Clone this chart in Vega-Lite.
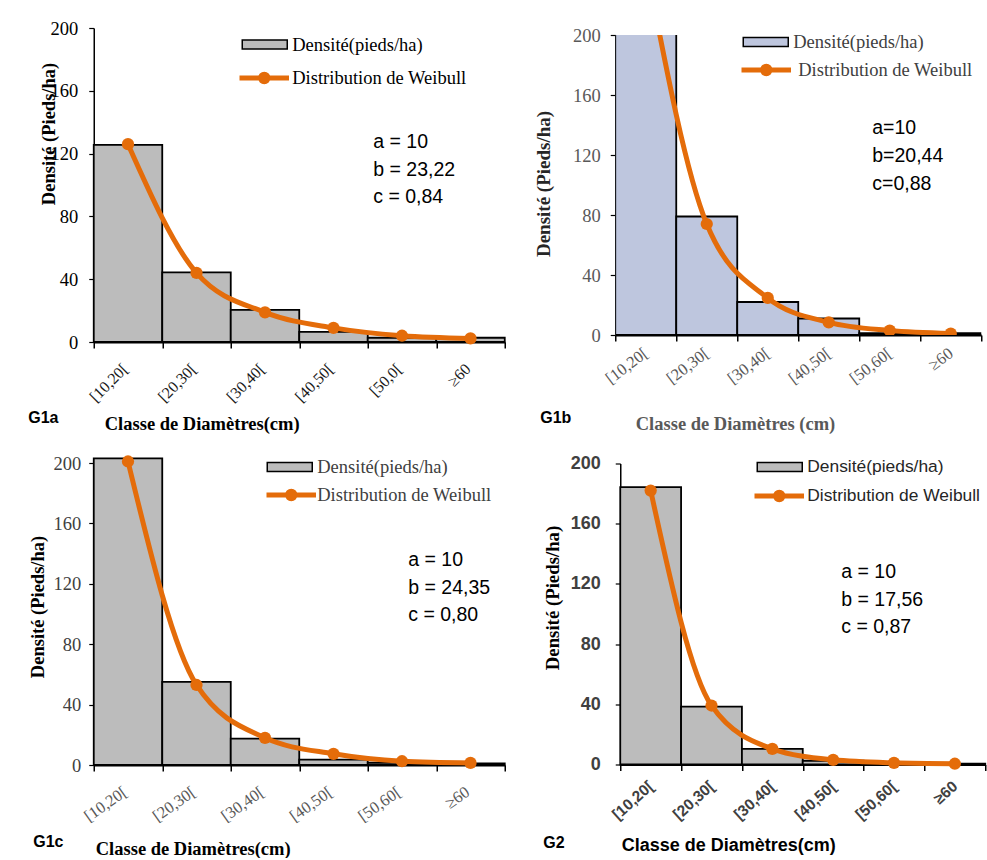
{
  "$schema": "https://vega.github.io/schema/vega-lite/v6.json",
  "background": "white",
  "padding": {"left": 27.75, "top": 19, "right": 0, "bottom": 0},
  "spacing": 18,
  "resolve": {"scale": {"fill": "independent", "stroke": "independent"}},
  "config": {"view": {"stroke": null}, "axis": {"grid": false}},
  "vconcat": [
    {
      "hconcat": [
        {
          "width": 411, "height": 314,
          "title": {"text": "G1a", "orient": "bottom", "anchor": "start", "frame": "group", "align": "left", "baseline": "middle", "dx": -65.5, "offset": -15, "font": "Liberation Sans", "fontSize": 16, "fontWeight": "bold", "color": "#000000"},
          "data": {"values": [
            {"classe": "[10,20[", "densite": 125.5, "weibull": 126},
            {"classe": "[20,30[", "densite": 44.3, "weibull": 44},
            {"classe": "[30,40[", "densite": 20.4, "weibull": 18.9},
            {"classe": "[40,50[", "densite": 6.5, "weibull": 9},
            {"classe": "[50,0[", "densite": 2.7, "weibull": 4},
            {"classe": "≥60", "densite": 2.7, "weibull": 2.3}
          ]},
          "encoding": {
            "x": {"field": "classe", "type": "nominal", "sort": null, "scale": {"paddingInner": 0, "paddingOuter": 0},
              "axis": {"title": "Classe de Diamètres(cm)", "tickBand": "extent", "labelAngle": -45, "labelAlign": "right", "labelBaseline": "middle", "labelPadding": 18, "labelOffset": -3, "labelFont": "Liberation Serif", "labelFontSize": 16, "labelColor": "#1a1a1a", "labelOverlap": false, "domainColor": "#000000", "domainWidth": 2, "tickColor": "#000000", "tickWidth": 1.5, "tickSize": 6, "titleFont": "Liberation Serif", "titleFontSize": 18.5, "titleFontWeight": "bold", "titleColor": "#000000", "titleAlign": "left", "titleBaseline": "middle", "titleX": 10.5, "titleY": 81}}
          },
          "layer": [
            {"mark": {"type": "bar", "stroke": "#000000", "strokeWidth": 1.8},
              "encoding": {
                "y": {"field": "densite", "type": "quantitative", "scale": {"domain": [0, 200], "nice": false},
                  "axis": {"title": "Densité (Pieds/ha)", "values": [0, 20, 40, 60, 80, 100, 120, 140, 160, 180, 200], "labelExpr": "datum.value % 40 == 0 ? datum.label : ''", "labelOverlap": false, "labelFont": "Liberation Serif", "labelFontSize": 18.5, "labelColor": "#000000", "labelPadding": 11, "domainColor": "#000000", "domainWidth": 1.5, "tickColor": "#000000", "tickWidth": 1.2, "tickSize": 5, "titleFont": "Liberation Serif", "titleFontSize": 18.5, "titleFontWeight": "bold", "titleColor": "#000000", "titleAngle": 270, "titleAlign": "center", "titleBaseline": "middle", "titleX": -45.5, "titleY": 105.5}},
                "fill": {"datum": "Densité(pieds/ha)", "scale": {"range": ["#bcbcbc"]},
                  "legend": {"title": null, "orient": "none", "legendX": 147.5, "legendY": 5.5, "padding": 0, "symbolType": "M-1,-0.45H3.5V0.45H-1Z", "symbolSize": 400, "symbolStrokeColor": "#000000", "symbolStrokeWidth": 1.5, "symbolOpacity": 1, "labelOffset": 29, "labelFont": "Liberation Serif", "labelFontSize": 18.5, "labelColor": "#000000", "labelLimit": 400}}
              }},
            {"mark": {"type": "line", "interpolate": "monotone", "strokeWidth": 5},
              "encoding": {"y": {"field": "weibull", "type": "quantitative"},
                "stroke": {"datum": "Distribution de Weibull", "scale": {"range": ["#E46C0A"]},
                  "legend": {"title": null, "orient": "none", "legendX": 145.5, "legendY": 39, "padding": 0, "symbolType": "M-1,-0.175H3.8V0.175H-1Z M0.85,0A0.55,0.55 0 1,1 1.95,0A0.55,0.55 0 1,1 0.85,0Z", "symbolSize": 400, "symbolFillColor": "#E46C0A", "symbolStrokeWidth": 1.5, "symbolOpacity": 1, "labelOffset": 31, "labelFont": "Liberation Serif", "labelFontSize": 18.5, "labelColor": "#000000", "labelLimit": 400}}}},
            {"mark": {"type": "point", "filled": true, "size": 150, "opacity": 1, "color": "#E46C0A"},
              "encoding": {"y": {"field": "weibull", "type": "quantitative"}}},
            {"data": {"values": [{}]},
              "mark": {"type": "text", "text": ["a = 10", "b = 23,22", "c = 0,84"], "font": "Liberation Sans", "fontSize": 19.5, "lineHeight": 27.5, "align": "left", "baseline": "top", "dx": 39.75, "color": "#000000"},
              "encoding": {"x": {"datum": "[40,50["}, "y": {"datum": 133}}}
          ]
        },
        {
          "width": 366, "height": 300,
          "title": {"text": "G1b", "orient": "bottom", "anchor": "start", "frame": "group", "align": "left", "baseline": "middle", "dx": -75, "offset": -14.5, "font": "Liberation Sans", "fontSize": 16, "fontWeight": "bold", "color": "#000000"},
          "data": {"values": [
            {"classe": "[10,20[", "densite": 255, "weibull": 248},
            {"classe": "[20,30[", "densite": 79, "weibull": 74},
            {"classe": "[30,40[", "densite": 22, "weibull": 24.7},
            {"classe": "[40,50[", "densite": 11, "weibull": 8.4},
            {"classe": "[50,60[", "densite": 1.2, "weibull": 3},
            {"classe": "≥60", "densite": 1.2, "weibull": 1}
          ]},
          "encoding": {
            "x": {"field": "classe", "type": "nominal", "sort": null, "scale": {"paddingInner": 0, "paddingOuter": 0},
              "axis": {"title": "Classe de Diamètres (cm)", "tickBand": "extent", "labelAngle": -37, "labelAlign": "right", "labelBaseline": "middle", "labelPadding": 10, "labelFont": "Liberation Serif", "labelFontSize": 16.5, "labelColor": "#595959", "labelOverlap": false, "domainColor": "#000000", "domainWidth": 2, "tickColor": "#000000", "tickWidth": 1.5, "tickSize": 6, "titleFont": "Liberation Serif", "titleFontSize": 18.5, "titleFontWeight": "bold", "titleColor": "#595959", "titleAlign": "left", "titleBaseline": "middle", "titleX": 20, "titleY": 88}}
          },
          "layer": [
            {"mark": {"type": "bar", "stroke": "#000000", "strokeWidth": 1.8, "clip": true},
              "encoding": {
                "y": {"field": "densite", "type": "quantitative", "scale": {"domain": [0, 200], "nice": false},
                  "axis": {"title": "Densité (Pieds/ha)", "values": [0, 20, 40, 60, 80, 100, 120, 140, 160, 180, 200], "labelExpr": "datum.value % 40 == 0 ? datum.label : ''", "labelOverlap": false, "labelFont": "Liberation Serif", "labelFontSize": 18.5, "labelColor": "#595959", "labelPadding": 10, "domainColor": "#000000", "domainWidth": 1.5, "tickColor": "#000000", "tickWidth": 1.2, "tickSize": 5, "titleFont": "Liberation Serif", "titleFontSize": 19, "titleFontWeight": "bold", "titleColor": "#262626", "titleAngle": 270, "titleAlign": "center", "titleBaseline": "middle", "titleX": -72, "titleY": 148.5}},
                "fill": {"datum": "Densité(pieds/ha)", "scale": {"range": ["#bec6de"]},
                  "legend": {"title": null, "orient": "none", "legendX": 127, "legendY": -4, "padding": 0, "symbolType": "M-1,-0.45H3.5V0.45H-1Z", "symbolSize": 400, "symbolStrokeColor": "#000000", "symbolStrokeWidth": 1.5, "symbolOpacity": 1, "labelOffset": 29, "labelFont": "Liberation Serif", "labelFontSize": 18.5, "labelColor": "#404040", "labelLimit": 400}}
              }},
            {"mark": {"type": "line", "interpolate": "monotone", "strokeWidth": 5, "clip": true},
              "encoding": {"y": {"field": "weibull", "type": "quantitative"},
                "stroke": {"datum": "Distribution de Weibull", "scale": {"range": ["#E46C0A"]},
                  "legend": {"title": null, "orient": "none", "legendX": 126, "legendY": 24, "padding": 0, "symbolType": "M-1,-0.175H3.8V0.175H-1Z M0.85,0A0.55,0.55 0 1,1 1.95,0A0.55,0.55 0 1,1 0.85,0Z", "symbolSize": 400, "symbolFillColor": "#E46C0A", "symbolStrokeWidth": 1.5, "symbolOpacity": 1, "labelOffset": 35, "labelFont": "Liberation Serif", "labelFontSize": 18.5, "labelColor": "#404040", "labelLimit": 400}}}},
            {"mark": {"type": "point", "filled": true, "size": 150, "opacity": 1, "color": "#E46C0A", "clip": true},
              "encoding": {"y": {"field": "weibull", "type": "quantitative"}}},
            {"data": {"values": [{}]},
              "mark": {"type": "text", "text": ["a=10", "b=20,44", "c=0,88"], "font": "Liberation Sans", "fontSize": 19.5, "lineHeight": 28, "align": "left", "baseline": "top", "dx": 43.5, "color": "#000000"},
              "encoding": {"x": {"datum": "[40,50["}, "y": {"datum": 143.7}}}
          ]
        }
      ],
      "bounds": "flush", "center": true, "spacing": 110.5,
      "resolve": {"scale": {"fill": "independent", "stroke": "independent"}}
    },
    {
      "hconcat": [
        {
          "width": 411, "height": 302,
          "title": {"text": "G1c", "orient": "bottom", "anchor": "start", "frame": "group", "align": "left", "baseline": "middle", "dx": -60.5, "offset": -16, "font": "Liberation Sans", "fontSize": 16, "fontWeight": "bold", "color": "#000000"},
          "data": {"values": [
            {"classe": "[10,20[", "densite": 203, "weibull": 201},
            {"classe": "[20,30[", "densite": 55, "weibull": 53},
            {"classe": "[30,40[", "densite": 17.5, "weibull": 18},
            {"classe": "[40,50[", "densite": 3.6, "weibull": 7.4},
            {"classe": "[50,60[", "densite": 1.5, "weibull": 2.5},
            {"classe": "≥60", "densite": 1, "weibull": 1.4}
          ]},
          "encoding": {
            "x": {"field": "classe", "type": "nominal", "sort": null, "scale": {"paddingInner": 0, "paddingOuter": 0},
              "axis": {"title": "Classe de Diamètres(cm)", "tickBand": "extent", "labelAngle": -35, "labelAlign": "right", "labelBaseline": "middle", "labelPadding": 19, "labelOffset": -3, "labelFont": "Liberation Serif", "labelFontSize": 16.5, "labelColor": "#595959", "labelOverlap": false, "domainColor": "#000000", "domainWidth": 2, "tickColor": "#000000", "tickWidth": 1.5, "tickSize": 6, "titleFont": "Liberation Serif", "titleFontSize": 18.5, "titleFontWeight": "bold", "titleColor": "#000000", "titleAlign": "left", "titleBaseline": "middle", "titleX": 1.5, "titleY": 83}}
          },
          "layer": [
            {"mark": {"type": "bar", "stroke": "#000000", "strokeWidth": 1.8},
              "encoding": {
                "y": {"field": "densite", "type": "quantitative", "scale": {"domain": [0, 200], "nice": false},
                  "axis": {"title": "Densité (Pieds/ha)", "values": [0, 20, 40, 60, 80, 100, 120, 140, 160, 180, 200], "labelExpr": "datum.value % 40 == 0 ? datum.label : ''", "labelOverlap": false, "labelFont": "Liberation Serif", "labelFontSize": 18.5, "labelColor": "#404040", "labelPadding": 8, "domainColor": "#000000", "domainWidth": 1.5, "tickColor": "#000000", "tickWidth": 1.2, "tickSize": 5, "titleFont": "Liberation Serif", "titleFontSize": 18.5, "titleFontWeight": "bold", "titleColor": "#000000", "titleAngle": 270, "titleAlign": "center", "titleBaseline": "middle", "titleX": -56.5, "titleY": 143.5}},
                "fill": {"datum": "Densité(pieds/ha)", "scale": {"range": ["#bcbcbc"]},
                  "legend": {"title": null, "orient": "none", "legendX": 172.5, "legendY": -7, "padding": 0, "symbolType": "M-1,-0.45H3.5V0.45H-1Z", "symbolSize": 400, "symbolStrokeColor": "#000000", "symbolStrokeWidth": 1.5, "symbolOpacity": 1, "labelOffset": 29, "labelFont": "Liberation Serif", "labelFontSize": 18.5, "labelColor": "#404040", "labelLimit": 400}}
              }},
            {"mark": {"type": "line", "interpolate": "monotone", "strokeWidth": 5},
              "encoding": {"y": {"field": "weibull", "type": "quantitative"},
                "stroke": {"datum": "Distribution de Weibull", "scale": {"range": ["#E46C0A"]},
                  "legend": {"title": null, "orient": "none", "legendX": 172.5, "legendY": 21, "padding": 0, "symbolType": "M-1,-0.175H3.8V0.175H-1Z M0.85,0A0.55,0.55 0 1,1 1.95,0A0.55,0.55 0 1,1 0.85,0Z", "symbolSize": 400, "symbolFillColor": "#E46C0A", "symbolStrokeWidth": 1.5, "symbolOpacity": 1, "labelOffset": 29, "labelFont": "Liberation Serif", "labelFontSize": 18.5, "labelColor": "#404040", "labelLimit": 400}}}},
            {"mark": {"type": "point", "filled": true, "size": 150, "opacity": 1, "color": "#E46C0A"},
              "encoding": {"y": {"field": "weibull", "type": "quantitative"}}},
            {"data": {"values": [{}]},
              "mark": {"type": "text", "text": ["a = 10", "b = 24,35", "c = 0,80"], "font": "Liberation Sans", "fontSize": 19.5, "lineHeight": 27.5, "align": "left", "baseline": "top", "dx": 6.25, "color": "#000000"},
              "encoding": {"x": {"datum": "[50,60["}, "y": {"datum": 141.5}}}
          ]
        },
        {
          "width": 365, "height": 301,
          "title": {"text": "G2", "orient": "bottom", "anchor": "start", "frame": "group", "align": "left", "baseline": "middle", "dx": -77, "offset": -11, "font": "Liberation Sans", "fontSize": 16, "fontWeight": "bold", "color": "#000000"},
          "data": {"values": [
            {"classe": "[10,20[", "densite": 184.3, "weibull": 182},
            {"classe": "[20,30[", "densite": 38.5, "weibull": 39.2},
            {"classe": "[30,40[", "densite": 10.4, "weibull": 10.4},
            {"classe": "[40,50[", "densite": 2.5, "weibull": 3.1},
            {"classe": "[50,60[", "densite": 1, "weibull": 1.1},
            {"classe": "≥60", "densite": 0.5, "weibull": 0.5}
          ]},
          "encoding": {
            "x": {"field": "classe", "type": "nominal", "sort": null, "scale": {"paddingInner": 0, "paddingOuter": 0},
              "axis": {"title": "Classe de Diamètres(cm)", "tickBand": "extent", "labelAngle": -42, "labelAlign": "right", "labelBaseline": "middle", "labelPadding": 13, "labelFont": "Liberation Sans", "labelFontSize": 15.5, "labelFontWeight": "bold", "labelColor": "#404040", "labelOverlap": false, "domainColor": "#000000", "domainWidth": 2, "tickColor": "#000000", "tickWidth": 1.5, "tickSize": 6, "titleFont": "Liberation Sans", "titleFontSize": 18, "titleFontWeight": "bold", "titleColor": "#000000", "titleAlign": "left", "titleBaseline": "middle", "titleX": 1, "titleY": 80.5}}
          },
          "layer": [
            {"mark": {"type": "bar", "stroke": "#000000", "strokeWidth": 1.8},
              "encoding": {
                "y": {"field": "densite", "type": "quantitative", "scale": {"domain": [0, 200], "nice": false},
                  "axis": {"title": "Densité (Pieds/ha)", "values": [0, 20, 40, 60, 80, 100, 120, 140, 160, 180, 200], "labelExpr": "datum.value % 40 == 0 ? datum.label : ''", "labelOverlap": false, "labelFont": "Liberation Sans", "labelFontSize": 18, "labelFontWeight": "bold", "labelColor": "#404040", "labelPadding": 15, "domainColor": "#000000", "domainWidth": 1.5, "tickColor": "#000000", "tickWidth": 1.2, "tickSize": 5, "titleFont": "Liberation Serif", "titleFontSize": 18.8, "titleFontWeight": "bold", "titleColor": "#000000", "titleAngle": 270, "titleAlign": "center", "titleBaseline": "middle", "titleX": -68, "titleY": 134}},
                "fill": {"datum": "Densité(pieds/ha)", "scale": {"range": ["#bcbcbc"]},
                  "legend": {"title": null, "orient": "none", "legendX": 136, "legendY": -7.5, "padding": 0, "symbolType": "M-1,-0.45H3.5V0.45H-1Z", "symbolSize": 400, "symbolStrokeColor": "#000000", "symbolStrokeWidth": 1.5, "symbolOpacity": 1, "labelOffset": 29, "labelFont": "Liberation Sans", "labelFontSize": 17.4, "labelColor": "#262626", "labelLimit": 400}}
              }},
            {"mark": {"type": "line", "interpolate": "monotone", "strokeWidth": 5},
              "encoding": {"y": {"field": "weibull", "type": "quantitative"},
                "stroke": {"datum": "Distribution de Weibull", "scale": {"range": ["#E46C0A"]},
                  "legend": {"title": null, "orient": "none", "legendX": 134, "legendY": 21.5, "padding": 0, "symbolType": "M-1,-0.175H3.8V0.175H-1Z M0.85,0A0.55,0.55 0 1,1 1.95,0A0.55,0.55 0 1,1 0.85,0Z", "symbolSize": 400, "symbolFillColor": "#E46C0A", "symbolStrokeWidth": 1.5, "symbolOpacity": 1, "labelOffset": 31, "labelFont": "Liberation Sans", "labelFontSize": 17.4, "labelColor": "#262626", "labelLimit": 400}}}},
            {"mark": {"type": "point", "filled": true, "size": 150, "opacity": 1, "color": "#E46C0A"},
              "encoding": {"y": {"field": "weibull", "type": "quantitative"}}},
            {"data": {"values": [{}]},
              "mark": {"type": "text", "text": ["a = 10", "b = 17,56", "c = 0,87"], "font": "Liberation Sans", "fontSize": 19.5, "lineHeight": 27.5, "align": "left", "baseline": "top", "dx": 8.1, "color": "#000000"},
              "encoding": {"x": {"datum": "[40,50["}, "y": {"datum": 133.6}}}
          ]
        }
      ],
      "bounds": "flush", "center": true, "spacing": 115.5,
      "resolve": {"scale": {"fill": "independent", "stroke": "independent"}}
    }
  ]
}
